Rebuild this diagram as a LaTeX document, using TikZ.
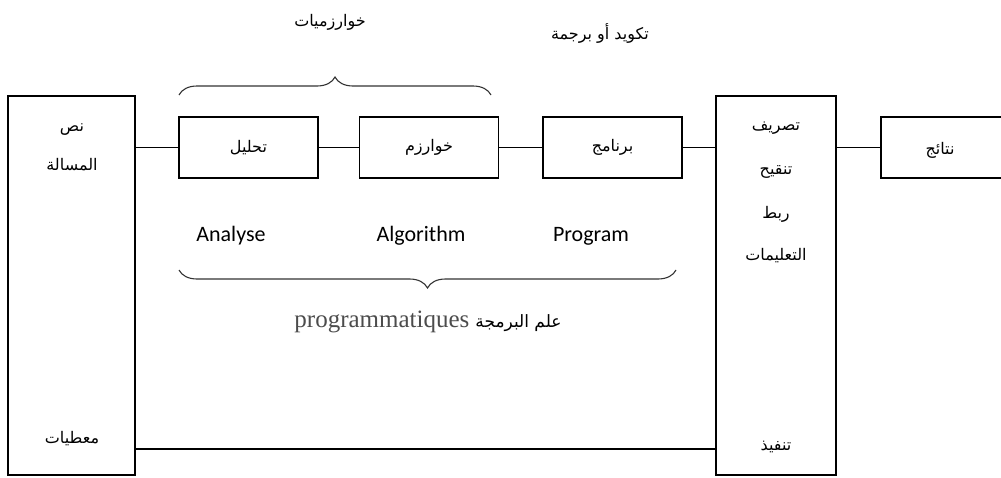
\documentclass[tikz,border=0pt]{standalone}
\usepackage{fontspec}
\usetikzlibrary{decorations.pathreplacing}
\TeXXeTstate=1
\newfontfamily\arabicfont[Script=Arabic]{DejaVu Sans}
\newfontfamily\latinsans{Carlito}
\newfontfamily\latinserif{Liberation Serif}
\newcommand{\ar}[1]{\arabicfont\beginR #1\endR}
\tikzset{
  boxnode/.style={draw, line width=1.3pt, inner sep=0pt, font=\fontsize{16}{18}\selectfont},
  smallbox/.style={boxnode, minimum width=139pt, minimum height=61pt},
  tallbox/.style={boxnode, minimum height=379pt},
  conn/.style={line width=1.3pt},
  arlbl/.style={inner sep=0pt, font=\fontsize{16}{18}\selectfont},
  enlbl/.style={inner sep=0pt, font=\latinsans\fontsize{22}{24}\selectfont},
  bracestyle/.style={line width=1.1pt, draw=black!80, decorate, decoration={brace, amplitude=18pt, aspect=0.5}}
}
\begin{document}
\begin{tikzpicture}[x=1pt,y=-1pt]
\useasboundingbox (0,0) rectangle (1001,477);
% boxes
\node[tallbox, minimum width=127pt] (L) at (71.5,285.5) {};
\node[smallbox] (A) at (248.5,147.5) {\ar{تحليل}};
\node[smallbox] (B) at (429,147.5) {\ar{خوارزم}};
\node[smallbox] (C) at (612.5,147.5) {\ar{برنامج}};
\node[tallbox, minimum width=120pt] (R) at (776,285.5) {};
\node[boxnode, minimum width=140pt, minimum height=61pt] (D) at (951,147.5) {};
\node[arlbl] (Dt) at (940,150) {\ar{نتائج}};
% left box texts
\node[arlbl] (L1) at (72,130) {\ar{نص}};
\node[arlbl] (L2) at (72,165) {\ar{المسالة}};
\node[arlbl] (L3) at (72,439) {\ar{معطيات}};
% right box texts
\node[arlbl] (R1) at (776,128) {\ar{تصريف}};
\node[arlbl] (R2) at (776,172) {\ar{تنقيح}};
\node[arlbl] (R3) at (776,214) {\ar{ربط}};
\node[arlbl] (R4) at (776,256) {\ar{التعليمات}};
\node[arlbl] (R5) at (776,447) {\ar{تنفيذ}};
% connectors
\draw[conn] (A.west -| L.east) -- (A.west);
\draw[conn] (A.east) -- (B.west);
\draw[conn] (B.east) -- (C.west);
\draw[conn] (C.east) -- (C.east -| R.west);
\draw[conn] (D.west -| R.east) -- (D.west);
\coordinate (bl) at (135,449);
\coordinate (br) at (716,449);
\draw[conn] (bl) -- (br);
% english labels
\node[enlbl] (E1) at (231,236) {Analyse};
\node[enlbl] (E2) at (421,236) {Algorithm};
\node[enlbl] (E3) at (591,236) {Program};
% braces
\coordinate (t1) at (179,95);
\coordinate (t2) at (491,95);
\draw[bracestyle] (t1) -- (t2);
\coordinate (b1) at (179,270);
\coordinate (b2) at (676,270);
\draw[bracestyle] (b2) -- (b1);
% top labels
\node[arlbl] (T1) at (330,22) {\ar{خوارزميات}};
\node[arlbl] (T2) at (600,33) {\ar{تكويد أو برجمة}};
% bottom label
\node[inner sep=0pt, anchor=base] (P) at (428,327) {{\latinserif\fontsize{25}{28}\selectfont\color{black!70}programmatiques}\hspace{6pt}{\fontsize{17}{18}\selectfont\ar{علم البرمجة}}};
\end{tikzpicture}
\end{document}
